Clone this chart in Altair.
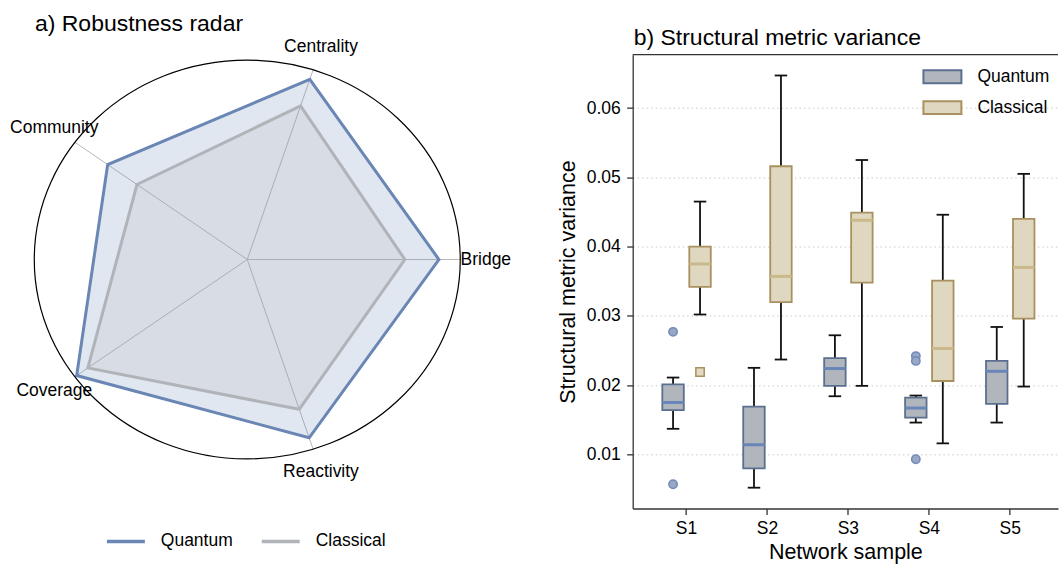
import math
import altair as alt
import pandas as pd

# ---------------- panel a: radar data ----------------
radar_axes = ["Bridge", "Centrality", "Community", "Coverage", "Reactivity"]
quantum_scores = [0.90, 0.95, 0.81, 0.99, 0.94]
classical_scores = [0.74, 0.81, 0.64, 0.925, 0.79]
series_names = ["Quantum", "Classical"]
line_colors = ["#6a86b4", "#b0b3b8"]

# ---------------- panel b: box-plot summaries ----------------
samples = ["S1", "S2", "S3", "S4", "S5"]
groups = ["Quantum", "Classical"]
box_fill = ["#b1b6bc", "#dfd7c0"]
box_edge = ["#5b6f8e", "#a8915f"]
median_color = ["#6a86b8", "#cab98b"]
quantum_lo = [0.0137, 0.0052, 0.0184, 0.0146, 0.0146]
quantum_q1 = [0.0164, 0.0080, 0.0199, 0.0153, 0.0173]
quantum_med = [0.0175, 0.0114, 0.0224, 0.0167, 0.0220]
quantum_q3 = [0.0201, 0.0169, 0.0239, 0.0182, 0.0235]
quantum_hi = [0.0211, 0.0225, 0.0272, 0.0185, 0.0284]
classical_lo = [0.0302, 0.0237, 0.0199, 0.0116, 0.0198]
classical_q1 = [0.0342, 0.0320, 0.0348, 0.0206, 0.0296]
classical_med = [0.0375, 0.0357, 0.0438, 0.0253, 0.0370]
classical_q3 = [0.0400, 0.0516, 0.0449, 0.0351, 0.0440]
classical_hi = [0.0465, 0.0647, 0.0525, 0.0446, 0.0505]
outlier_sample = ["S1", "S1", "S1", "S4", "S4", "S4"]
outlier_group = ["Quantum", "Quantum", "Classical", "Quantum", "Quantum", "Quantum"]
outlier_value = [0.0277, 0.0057, 0.0219, 0.0242, 0.0235, 0.0093]
y_ticks = [0.01, 0.02, 0.03, 0.04, 0.05, 0.06]

FONT = "Liberation Sans"

# ---------------- radar geometry (derived) ----------------
n_ax = len(radar_axes)
angles = [2 * math.pi * i / n_ax for i in range(n_ax)]
LABEL_R = 1.12

rows = []
for s, vals in zip(series_names, [quantum_scores, classical_scores]):
    for i, (name, v) in enumerate(zip(radar_axes, vals)):
        rows.append({"series": s, "axis": name, "idx": i,
                     "x": v * math.cos(angles[i]), "y": v * math.sin(angles[i])})
radar_df = pd.DataFrame(rows)
spoke_rows = []
for name, a in zip(radar_axes, angles):
    for r in (0.0, 1.0):
        spoke_rows.append({"axis": name, "r": r, "x": r * math.cos(a), "y": r * math.sin(a)})
spoke_df = pd.DataFrame(spoke_rows)
label_df = pd.DataFrame({"axis": radar_axes,
                         "x": [LABEL_R * math.cos(a) for a in angles],
                         "y": [LABEL_R * math.sin(a) for a in angles]})
rim_df = pd.DataFrame({"x": [0.0], "y": [0.0]})

W1, H = 530, 454.2
xdom = [-1.1609, 1.3251]
ydom = [-1.2485, 1.0271]
px_x = W1 / (xdom[1] - xdom[0])
px_y = H / (ydom[1] - ydom[0])
ratio = px_y / px_x
ELLIPSE = f"M-1,0A1,{ratio:.4f},0,1,1,1,0A1,{ratio:.4f},0,1,1,-1,0Z"
ELLIPSE_SIZE = (2 * px_x) ** 2

xs = alt.Scale(domain=xdom, nice=False, zero=False)
ys = alt.Scale(domain=ydom, nice=False, zero=False)

spokes = alt.Chart(spoke_df).mark_line(color="#b8b8b8", strokeWidth=1).encode(
    x=alt.X("x:Q", scale=xs, axis=None),
    y=alt.Y("y:Q", scale=ys, axis=None),
    detail="axis:N", order=alt.Order("r:Q"))

color_scale = alt.Scale(domain=series_names, range=line_colors)
left_legend = alt.Legend(orient="none", legendX=105, legendY=466, direction="horizontal",
                         title=None, symbolType="stroke", symbolSize=1444,
                         symbolStrokeWidth=3.5, labelFontSize=17.5, labelOffset=14,
                         columnPadding=22, padding=0, labelColor="black", labelFont=FONT)


def poly(name, col):
    return alt.Chart(radar_df).transform_filter(f"datum.series == '{name}'").mark_line(
        interpolate="linear-closed", strokeWidth=3, fill=col, fillOpacity=0.2
    ).encode(
        x=alt.X("x:Q", scale=xs, axis=None),
        y=alt.Y("y:Q", scale=ys, axis=None),
        order=alt.Order("idx:Q"),
        color=alt.Color("series:N", scale=color_scale, legend=left_legend))


rim = alt.Chart(rim_df).mark_point(shape=ELLIPSE, size=ELLIPSE_SIZE, filled=False,
                                   stroke="black", strokeWidth=1.2, opacity=1).encode(
    x=alt.X("x:Q", scale=xs, axis=None), y=alt.Y("y:Q", scale=ys, axis=None))

labels = alt.Chart(label_df).mark_text(fontSize=17.5, align="center", baseline="middle",
                                       color="black", font=FONT).encode(
    x=alt.X("x:Q", scale=xs, axis=None), y=alt.Y("y:Q", scale=ys, axis=None), text="axis:N")

left = alt.layer(spokes, poly("Quantum", line_colors[0]), poly("Classical", line_colors[1]),
                 rim, labels).properties(
    width=W1, height=H,
    title=alt.TitleParams("a) Robustness radar", anchor="start", frame="group", fontSize=23,
                          fontWeight="normal", font=FONT, color="black", dx=35,
                          baseline="alphabetic", offset=-16))

# ---------------- panel b ----------------
brow = []
for g, lo, q1, md, q3, hi in [("Quantum", quantum_lo, quantum_q1, quantum_med, quantum_q3, quantum_hi),
                              ("Classical", classical_lo, classical_q1, classical_med, classical_q3, classical_hi)]:
    for i, s in enumerate(samples):
        brow.append({"sample": s, "group": g, "lo": lo[i], "q1": q1[i], "med": md[i],
                     "q3": q3[i], "hi": hi[i]})
box_df = pd.DataFrame(brow)
out_df = pd.DataFrame({"sample": outlier_sample, "group": outlier_group, "value": outlier_value})

W2 = 425.7
x_scale = alt.Scale(domain=samples, paddingInner=0, paddingOuter=0.1278, align=0.647)
x_axis = alt.Axis(title="Network sample", labelAngle=0, labelFontSize=17.5, titleFontSize=21.5,
                  titleFontWeight="normal", tickSize=6, tickWidth=1.3, tickColor="#333",
                  domainColor="#333", domainWidth=1.3, labelPadding=5, titlePadding=5,
                  labelColor="black", titleColor="black", labelFont=FONT, titleFont=FONT)
y_scale = alt.Scale(domain=[0.0022, 0.0677], nice=False, zero=False)
y_axis = alt.Axis(title="Structural metric variance", values=y_ticks, format=".2f",
                  labelFontSize=17.5, titleFontSize=21.5, titleFontWeight="normal",
                  tickSize=6, tickWidth=1.3, tickColor="#333", domainColor="#333",
                  domainWidth=1.3, labelPadding=6.5, titlePadding=7, grid=True,
                  gridColor="#c9c9c9", gridDash=[1.5, 3], gridWidth=1,
                  labelColor="black", titleColor="black", labelFont=FONT, titleFont=FONT)

X = alt.X("sample:N", scale=x_scale, axis=x_axis)
XO = alt.XOffset("group:N", scale=alt.Scale(domain=groups, paddingInner=0, paddingOuter=0.5))


def Y(f):
    return alt.Y(f"{f}:Q", scale=y_scale, axis=y_axis)


is_q = "datum.group == 'Quantum'"
whisk = alt.Chart(box_df).mark_rule(color="#111", strokeWidth=1.8).encode(
    x=X, xOffset=XO, y=Y("lo"), y2="hi:Q")
cap_lo = alt.Chart(box_df).mark_tick(color="#111", size=12.5, thickness=1.8, opacity=1).encode(
    x=X, xOffset=XO, y=Y("lo"))
cap_hi = alt.Chart(box_df).mark_tick(color="#111", size=12.5, thickness=1.8, opacity=1).encode(
    x=X, xOffset=XO, y=Y("hi"))

edge_expr = f"datum.value === '{groups[0]}' ? '{box_edge[0]}' : '{box_edge[1]}'"
right_legend = alt.Legend(orient="none", legendX=290, legendY=2, title=None,
                          symbolType="M-1,-0.34L1,-0.34L1,0.34L-1,0.34Z", symbolSize=1444,
                          symbolStrokeWidth=2, symbolStrokeColor=alt.ExprRef(edge_expr),
                          symbolOpacity=1, labelFontSize=17.5, labelOffset=15,
                          rowPadding=-4, padding=0, labelColor="black", labelFont=FONT)
boxes = alt.Chart(box_df).mark_bar(size=21.5, strokeWidth=1.8, opacity=1).encode(
    x=X, xOffset=XO, y=Y("q1"), y2="q3:Q",
    color=alt.Color("group:N", scale=alt.Scale(domain=groups, range=box_fill),
                    legend=right_legend),
    stroke=alt.Stroke("group:N", scale=alt.Scale(domain=groups, range=box_edge), legend=None))
medians = alt.Chart(box_df).mark_tick(size=21.5, thickness=3, opacity=1).encode(
    x=X, xOffset=XO, y=Y("med"),
    fill=alt.condition(is_q, alt.value(median_color[0]), alt.value(median_color[1])))
outliers = alt.Chart(out_df).mark_point(filled=True, size=70, strokeWidth=1.5, opacity=1).encode(
    x=X, xOffset=XO, y=Y("value"),
    fill=alt.condition(is_q, alt.value("#98a7c4"), alt.value("#e2dac4")),
    stroke=alt.condition(is_q, alt.value("#7089ba"), alt.value("#a8915f")),
    shape=alt.condition(is_q, alt.value("circle"), alt.value("square")))
top_edge = alt.Chart(pd.DataFrame({"edge": ["top"]})).mark_rule(color="#333", strokeWidth=1.3).encode(
    y=alt.value(0))

right = alt.layer(whisk, cap_lo, cap_hi, boxes, medians, outliers, top_edge).properties(
    width=W2, height=H,
    title=alt.TitleParams("b) Structural metric variance", anchor="start", frame="group",
                          fontSize=23, fontWeight="normal", font=FONT, color="black", dx=1,
                          baseline="alphabetic", offset=-13.5))

chart = alt.hconcat(left, right, spacing=103.3, bounds="flush").resolve_scale(
    color="independent", fill="independent", stroke="independent"
).resolve_legend(
    color="independent", fill="independent", stroke="independent"
).properties(
    padding={"left": 0, "top": 12.5, "right": 0, "bottom": 0}
).configure(font=FONT).configure_view(stroke=None)

chart.save("out.html", embed_options={"renderer": "svg", "actions": False})
